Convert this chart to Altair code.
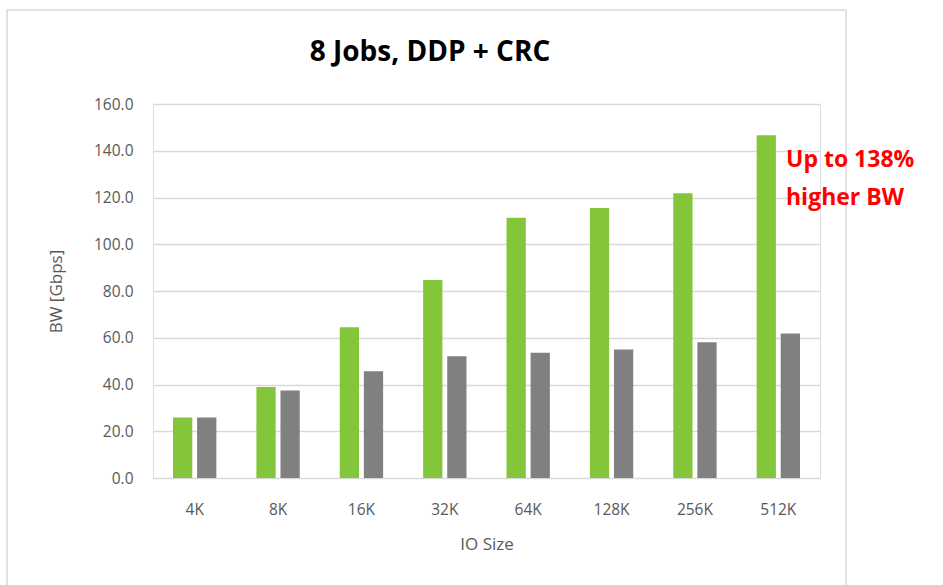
import altair as alt
import pandas as pd

sizes = ["4K", "8K", "16K", "32K", "64K", "128K", "256K", "512K"]
green_vals = [25.9, 38.9, 64.5, 84.7, 111.3, 115.5, 121.8, 146.6]
gray_vals = [25.9, 37.4, 45.7, 52.1, 53.6, 55.0, 58.1, 61.8]
series_names = ["A", "B"]
series_colors = ["#84C63A", "#808080"]
y_ticks = [0, 20, 40, 60, 80, 100, 120, 140, 160]
title_text = "8 Jobs, DDP + CRC"
note_lines = ["Up to 138%", "higher BW"]

rows = []
for s, g, b in zip(sizes, green_vals, gray_vals):
    rows.append({"size": s, "series": series_names[0], "bw": g})
    rows.append({"size": s, "series": series_names[1], "bw": b})
df = pd.DataFrame(rows)

FONT = "Open Sans"
W, H = 667, 374
L, T = 153, 104

bars = alt.Chart(df).mark_bar().encode(
    x=alt.X("size:N", sort=sizes,
            scale=alt.Scale(paddingInner=0.48, paddingOuter=0.24),
            axis=alt.Axis(title="IO Size", labelAngle=0, labelPadding=24,
                          labelFontSize=15.5, labelColor="#595959",
                          titleFontSize=17, titleColor="#595959",
                          titleFontWeight="normal", titlePadding=19,
                          ticks=False, domain=False, labelFont=FONT,
                          titleFont=FONT)),
    xOffset=alt.XOffset("series:N", sort=series_names,
                        scale=alt.Scale(paddingInner=0.2)),
    y=alt.Y("bw:Q", scale=alt.Scale(domain=[0, 160], nice=False),
            axis=alt.Axis(title="BW [Gbps]", values=y_ticks, format=".1f",
                          labelPadding=20, labelFontSize=15.5,
                          labelColor="#595959", titleFontSize=17,
                          titleColor="#595959", titleFontWeight="normal",
                          ticks=False, domain=False, gridColor="#d9d9d9",
                          gridWidth=1.5, labelFont=FONT, titleFont=FONT,
                          titleX=-88, titleY=H / 2)),
    color=alt.Color("series:N", sort=series_names,
                    scale=alt.Scale(domain=series_names, range=series_colors),
                    legend=None),
)

frame = alt.Chart(pd.DataFrame({"k": [0]})).mark_rect(
    fill=None, stroke="#d9d9d9", strokeWidth=1.5
).encode(
    x=alt.value(7 - L), x2=alt.value(846 - L),
    y=alt.value(10 - T), y2=alt.value(600 - T),
)

title = alt.Chart(pd.DataFrame({"t": [title_text]})).mark_text(
    align="center", baseline="alphabetic", color="#000000", fontSize=28,
    fontWeight="bold", font=FONT
).encode(
    x=alt.value(430 - L), y=alt.value(61 - T), text="t:N"
)

note = alt.Chart(pd.DataFrame({"t": [note_lines]})).mark_text(
    align="left", baseline="middle", color="#FF0000", fontSize=23,
    fontWeight="bold", font=FONT, lineHeight=38
).encode(
    x=alt.value(786 - L), y=alt.value(160 - T), text="t:N"
)

chart = alt.layer(frame, title, bars, note).properties(
    width=W, height=H,
    autosize=alt.AutoSizeParams(type="none"),
    padding={"left": L, "top": T, "right": 943 - L - W, "bottom": 585 - T - H},
).configure_view(stroke=None).configure(background="white")

chart.save("out.html", embed_options={"renderer": "svg", "actions": False})
